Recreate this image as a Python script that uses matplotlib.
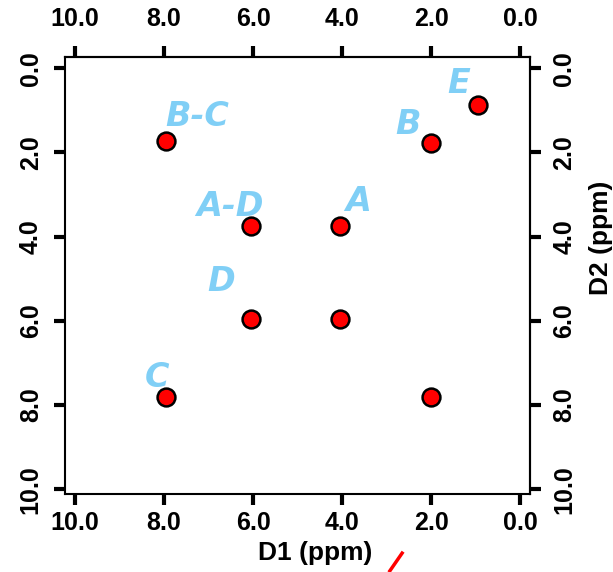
import matplotlib
matplotlib.use('Agg')
import matplotlib.pyplot as plt
from matplotlib.lines import Line2D

plt.rcParams['font.family'] = ['Liberation Sans', 'DejaVu Sans']

# peak positions (ppm)
d1 = [7.95, 2.0, 0.95, 6.05, 4.05, 6.05, 4.05, 7.95, 2.0]
d2 = [1.72, 1.78, 0.88, 3.75, 3.75, 5.95, 5.95, 7.8, 7.8]

ticks = [0, 2, 4, 6, 8, 10]
tick_labels = ['0.0', '2.0', '4.0', '6.0', '8.0', '10.0']

# handwritten notes
notes = ['E', 'B', 'B-C', 'A-D', 'A', 'D', 'C']
note_x = [1.39, 2.52, 7.26, 6.52, 3.64, 6.72, 8.16]
note_y = [0.36, 1.35, 1.16, 3.28, 3.16, 5.06, 7.34]
note_color = '#80cff6'

fig = plt.figure(figsize=(6.13, 5.72), dpi=100)
ax = fig.add_axes([0.106, 0.136, 0.759, 0.764])

ax.scatter(d1, d2, s=165, c='red', edgecolors='black', linewidths=1.8, zorder=3)
for t, x, y in zip(notes, note_x, note_y):
    ax.text(x, y, t, color=note_color, fontsize=24, ha='center', va='center',
            family='DejaVu Sans', style='italic', fontweight='bold')

ax.set_xlim(10.22, -0.22)
ax.set_ylim(10.12, -0.26)

for s in ax.spines.values():
    s.set_linewidth(1.5)

ax.set_xticks(ticks, tick_labels, fontweight='bold')
ax.set_yticks(ticks, tick_labels, fontweight='bold', rotation=90, va='center')
ax.tick_params(axis='both', direction='out', length=8, width=3, labelsize=18)
ax.tick_params(axis='x', pad=4)
ax.tick_params(axis='y', pad=8)

top = ax.secondary_xaxis('top')
top.set_xticks(ticks, tick_labels, fontweight='bold')
top.tick_params(direction='out', length=8, width=3, labelsize=18, pad=11)
top.spines['top'].set_linewidth(1.5)

right = ax.secondary_yaxis('right')
right.set_yticks(ticks, tick_labels, fontweight='bold', rotation=90, va='center')
right.tick_params(direction='out', length=8, width=3, labelsize=18, pad=8)
right.spines['right'].set_linewidth(1.5)

ax.set_xlabel('D1 (ppm)', fontsize=19, fontweight='bold', va='center')
ax.xaxis.set_label_coords(0.538, -0.135)
right.set_ylabel('D2 (ppm)', fontsize=19, fontweight='bold')
right.yaxis.label.set_va('center')
right.yaxis.set_label_coords(1.153, 0.586, transform=ax.transAxes)

# red pen stroke under the axis label
fig.add_artist(Line2D([0.636, 0.656], [0.002, 0.033], color='red', lw=2.5,
                      transform=fig.transFigure))

fig.savefig('out.png', dpi=100)
